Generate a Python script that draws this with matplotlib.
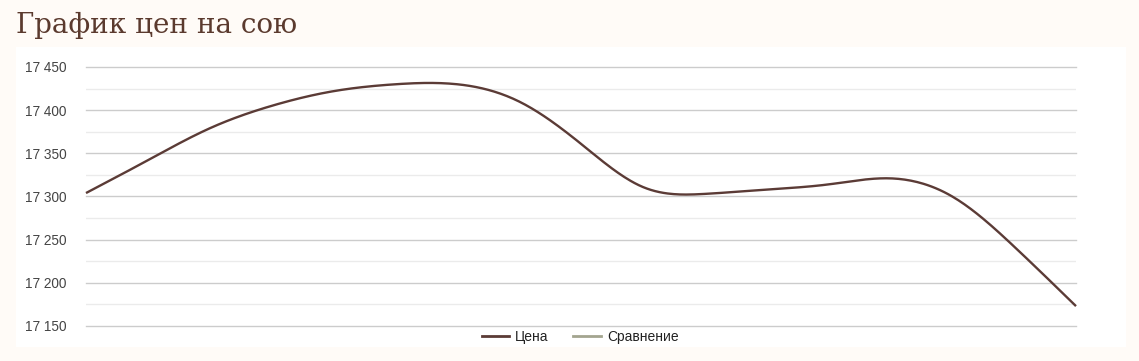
"""
График цен на сою — линия цены со сглаживанием
"""

import numpy as np
import matplotlib
matplotlib.use("Agg")
import matplotlib.pyplot as plt
from matplotlib.lines import Line2D
from matplotlib.patches import Rectangle
from matplotlib.ticker import MultipleLocator, FixedLocator, FuncFormatter

# данные (равные шаги по оси X)
points = np.arange(17)
price = [17304, 17342, 17379, 17405, 17422, 17430, 17430, 17410, 17361,
         17311, 17303, 17308, 17314, 17321, 17300, 17242, 17173]

title = "График цен на сою"
series_names = ["Цена", "Сравнение"]

BG = "#fffbf7"
LINE_COLOR = "#5b3b36"
CMP_COLOR = "#a3a58f"
TEXT_COLOR = "#444444"


def smooth(x, y, n=30):
    """натуральный кубический сплайн (вместо curveType: function)"""
    x = np.asarray(x, float)
    y = np.asarray(y, float)
    k = len(x)
    h = np.diff(x)
    A = np.zeros((k, k))
    b = np.zeros(k)
    A[0, 0] = A[-1, -1] = 1
    for i in range(1, k - 1):
        A[i, i - 1] = h[i - 1]
        A[i, i] = 2 * (h[i - 1] + h[i])
        A[i, i + 1] = h[i]
        b[i] = 3 * ((y[i + 1] - y[i]) / h[i] - (y[i] - y[i - 1]) / h[i - 1])
    c = np.linalg.solve(A, b)
    xs, ys = [], []
    for i in range(k - 1):
        t = np.linspace(0, h[i], n, endpoint=False)
        bi = (y[i + 1] - y[i]) / h[i] - h[i] * (2 * c[i] + c[i + 1]) / 3
        di = (c[i + 1] - c[i]) / (3 * h[i])
        xs.append(x[i] + t)
        ys.append(y[i] + bi * t + c[i] * t**2 + di * t**3)
    xs.append([x[-1]])
    ys.append([y[-1]])
    return np.concatenate(xs), np.concatenate(ys)


W, H = 1139, 361
fig = plt.figure(figsize=(W / 100, H / 100), dpi=100, facecolor=BG)

# белая панель графика
fig.patches.append(Rectangle((16 / W, 1 - 347 / H), 1110 / W, 300 / H,
                             transform=fig.transFigure, facecolor="white",
                             edgecolor="none", zorder=-1))

# ось чуть ниже 17 150, чтобы нижняя линия сетки не обрезалась
ax = fig.add_axes([86 / W, 1 - 330.3 / H, 990 / W, 263.3 / H], zorder=2)
ax.patch.set_alpha(0)

sx, sy = smooth(points, price)
ax.plot(sx, sy, color=LINE_COLOR, linewidth=1.7, solid_capstyle="butt",
        clip_on=False, zorder=3)

ax.set_xlim(points[0], points[-1])
ax.set_ylim(17145, 17450)
ax.yaxis.set_major_locator(FixedLocator(np.arange(17150, 17451, 50)))
ax.yaxis.set_minor_locator(FixedLocator(np.arange(17175, 17450, 50)))
ax.yaxis.set_major_formatter(FuncFormatter(lambda v, p: f"{int(v):,}".replace(",", " ")))
ax.grid(True, which="major", axis="y", color="#cccccc", linewidth=1)
ax.grid(True, which="minor", axis="y", color="#ebebeb", linewidth=1)
for gl in ax.yaxis.get_gridlines():
    gl.set_clip_on(False)
ax.set_axisbelow(True)
ax.set_xticks([])
ax.tick_params(axis="y", which="both", length=0, pad=14,
               labelsize=9.8, labelcolor=TEXT_COLOR)
for lab in ax.get_yticklabels():
    lab.set_fontfamily("Liberation Sans")
for s in ax.spines.values():
    s.set_visible(False)

fig.text(16 / W, 1 - 33 / H, title, fontsize=20, color="#5b3a2e",
         family="DejaVu Serif", va="baseline", ha="left")

handles = [Line2D([], [], color=LINE_COLOR, linewidth=2),
           Line2D([], [], color=CMP_COLOR, linewidth=2)]
fig.legend(handles, series_names, loc="center", ncol=2,
           bbox_to_anchor=(580 / W, 1 - 337 / H), frameon=False,
           prop={"family": "Liberation Sans", "size": 10},
           handlelength=2.0, handletextpad=0.4, columnspacing=1.8,
           labelcolor="#222222")

plt.savefig("out.png", dpi=100, facecolor=BG)
